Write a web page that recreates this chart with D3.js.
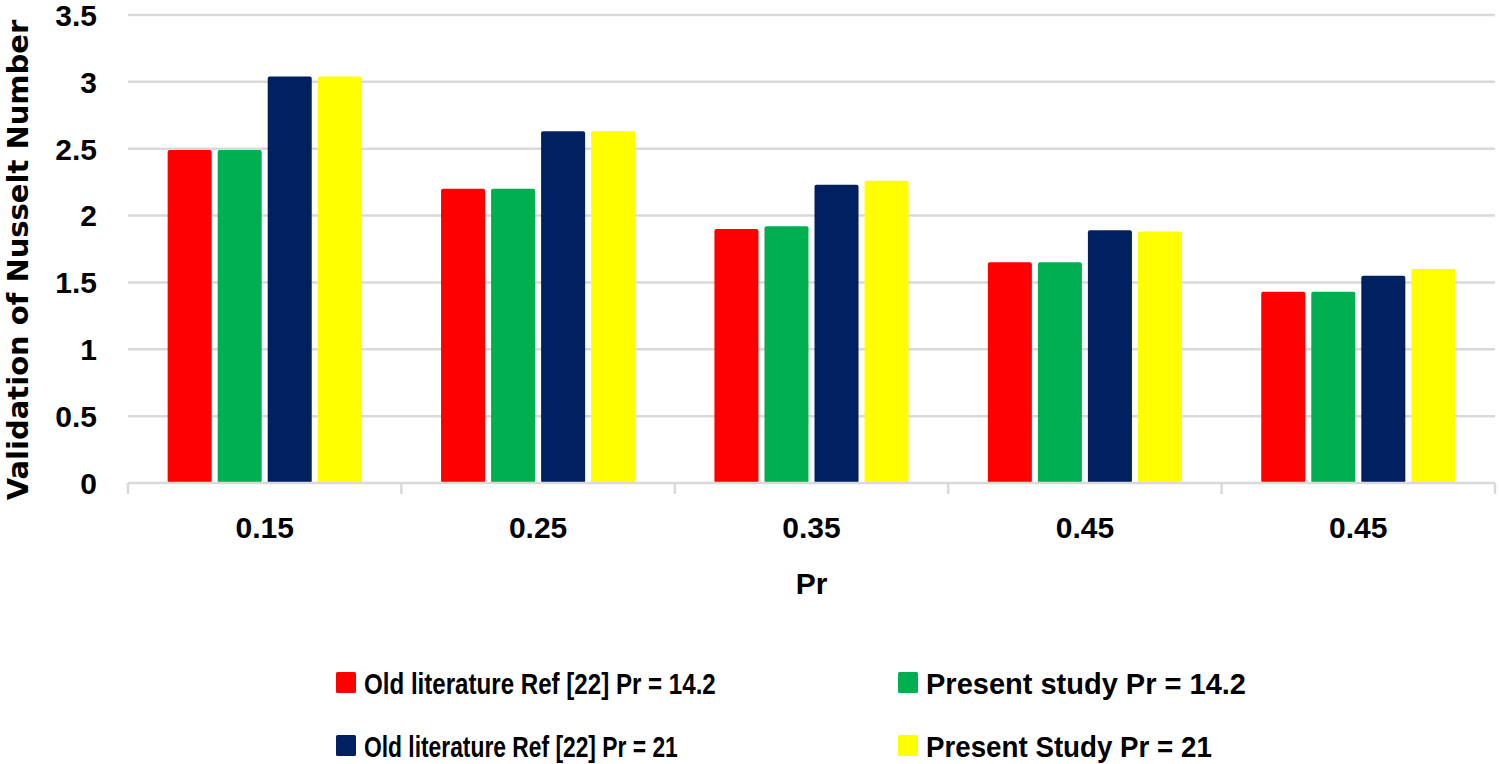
<!DOCTYPE html>
<html lang="en">
<head>
  <meta charset="UTF-8">
  <title>Validation of Nusselt Number</title>
  <script src="https://d3js.org/d3.v7.min.js"></script>
  <style>
    body {
      margin: 0;
      background-color: #fff;
    }
    svg text {
      fill: #000;
      font-weight: bold;
    }
  </style>
</head>
<body>
<div id="chart"></div>

<script>
// Categories on the x axis (labels as printed in the figure)
const categories = ["0.15", "0.25", "0.35", "0.45", "0.45 "];
const categoryLabels = ["0.15", "0.25", "0.35", "0.45", "0.45"];

// Series
const seriesNames = [
  "Old literature Ref [22] Pr = 14.2",
  "Present study Pr = 14.2",
  "Old literature Ref [22] Pr = 21",
  "Present Study Pr = 21"
];
const seriesColors = ["#ff0000", "#00b050", "#002060", "#ffff00"];

const oldRef142 = [2.49, 2.20, 1.90, 1.65, 1.43];
const present142 = [2.49, 2.20, 1.92, 1.65, 1.43];
const oldRef21 = [3.04, 2.63, 2.23, 1.89, 1.55];
const present21 = [3.04, 2.63, 2.26, 1.88, 1.60];

const seriesValues = [oldRef142, present142, oldRef21, present21];

const yTicks = [0, 0.5, 1, 1.5, 2, 2.5, 3, 3.5];

const width = 1499;
const height = 764;
const margin = {left: 128, right: 4, top: 15, bottom: 281};

const labelFont = "'Liberation Sans', Arial, sans-serif";
const titleFont = "'DejaVu Sans', Verdana, sans-serif";

const svg = d3.select("#chart")
  .append("svg")
  .attr("width", width)
  .attr("height", height);

const x0 = d3.scaleBand()
  .domain(categories)
  .range([margin.left, width - margin.right])
  .paddingInner(0.29)
  .paddingOuter(0.145);

const x1 = d3.scaleBand()
  .domain(d3.range(seriesNames.length))
  .range([0, x0.bandwidth()])
  .paddingInner(0.12);

const y = d3.scaleLinear()
  .domain([0, 3.5])
  .range([height - margin.bottom, margin.top]);

// Gridlines
svg.append("g")
  .selectAll("line")
  .data(yTicks.filter(d => d > 0))
  .enter().append("line")
  .attr("x1", margin.left)
  .attr("x2", width - margin.right)
  .attr("y1", d => y(d))
  .attr("y2", d => y(d))
  .style("stroke", "#d9d9d9")
  .style("stroke-width", 2.5);

// Bars
const groups = svg.append("g")
  .selectAll("g")
  .data(categories)
  .enter().append("g")
  .attr("transform", d => `translate(${x0(d)},0)`);

groups.selectAll("rect")
  .data((d, i) => seriesValues.map((vals, s) => ({s, v: vals[i]})))
  .enter().append("rect")
  .attr("x", d => x1(d.s))
  .attr("width", x1.bandwidth())
  .attr("y", d => y(d.v))
  .attr("height", d => y(0) - y(d.v))
  .attr("rx", 2)
  .style("fill", d => seriesColors[d.s]);

// Bottom axis line with tick marks at category boundaries
const step = x0.step();
const boundaries = d3.range(categories.length + 1).map(i => margin.left + i * step);

svg.append("line")
  .attr("x1", margin.left)
  .attr("x2", width - margin.right)
  .attr("y1", y(0))
  .attr("y2", y(0))
  .style("stroke", "#d9d9d9")
  .style("stroke-width", 2.5);

svg.append("g")
  .selectAll("line")
  .data(boundaries)
  .enter().append("line")
  .attr("x1", d => d)
  .attr("x2", d => d)
  .attr("y1", y(0))
  .attr("y2", y(0) + 11)
  .style("stroke", "#d9d9d9")
  .style("stroke-width", 2.5);

// Y tick labels
svg.append("g")
  .selectAll("text")
  .data(yTicks)
  .enter().append("text")
  .attr("x", 97)
  .attr("y", d => y(d))
  .attr("dy", "0.36em")
  .style("text-anchor", "end")
  .style("font-family", labelFont)
  .style("font-size", "30px")
  .text(d => String(d));

// X tick labels
svg.append("g")
  .selectAll("text")
  .data(categories)
  .enter().append("text")
  .attr("x", d => x0(d) + x0.bandwidth() / 2)
  .attr("y", 538)
  .style("text-anchor", "middle")
  .style("font-family", labelFont)
  .style("font-size", "30px")
  .text((d, i) => categoryLabels[i]);

// Axis titles
svg.append("text")
  .attr("x", (margin.left + width - margin.right) / 2)
  .attr("y", 594)
  .style("text-anchor", "middle")
  .style("font-family", labelFont)
  .style("font-size", "30px")
  .text("Pr");

svg.append("text")
  .attr("transform", "translate(28,260) rotate(-90)")
  .style("text-anchor", "middle")
  .style("font-family", titleFont)
  .style("font-size", "29px")
  .text("Validation of Nusselt Number");

// Legend
const legend = svg.append("g")
  .selectAll("g")
  .data(seriesNames)
  .enter().append("g")
  .attr("transform", (d, i) => `translate(${336 + (i % 2) * 562},${672 + Math.floor(i / 2) * 63})`);

legend.append("rect")
  .attr("width", 20)
  .attr("height", 21)
  .attr("rx", 1.5)
  .style("fill", (d, i) => seriesColors[i]);

// the figure uses a narrow font, so squeeze texts horizontally to their printed width
const legendWidths = [352, 327, 314, 286];
legend.append("text")
  .attr("transform", "translate(28,22)")
  .style("font-family", labelFont)
  .style("font-size", "29px")
  .text(d => d)
  .each(function(d, i) {
    const len = this.getComputedTextLength();
    const sx = len > 0 ? Math.min(1, legendWidths[i] / len) : 1;
    d3.select(this).attr("transform", `translate(28,22) scale(${sx},1)`);
  });
</script>
</body>
</html>
